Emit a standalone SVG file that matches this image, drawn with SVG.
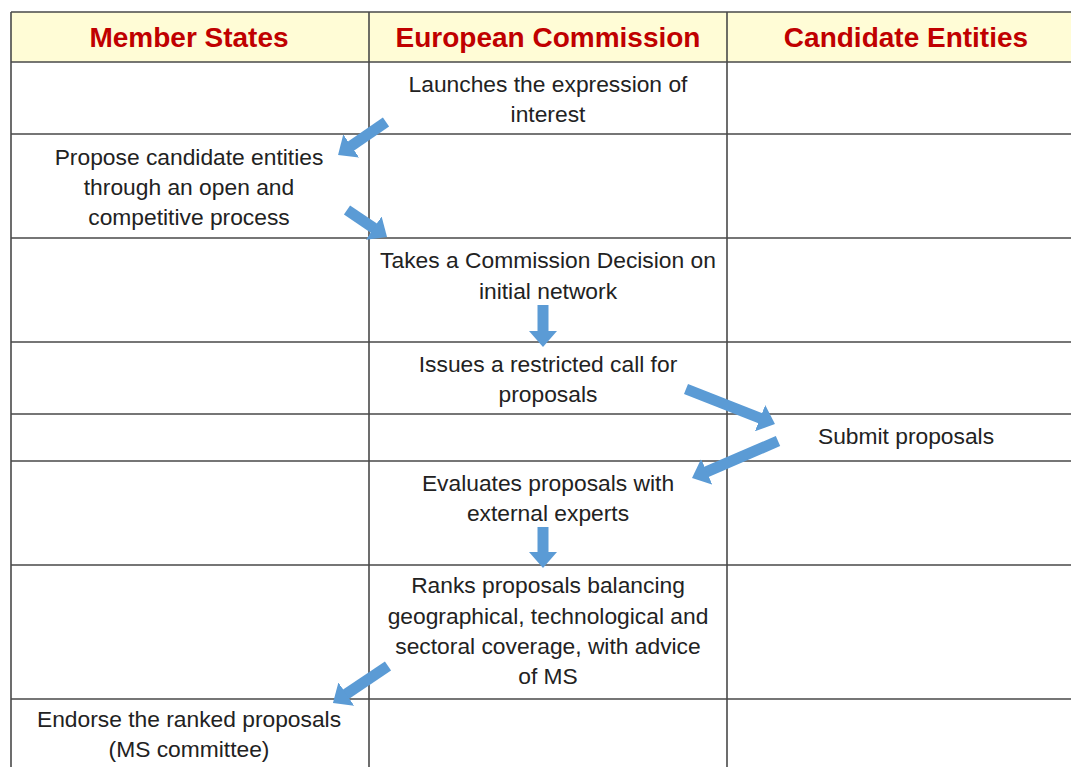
<svg xmlns="http://www.w3.org/2000/svg" width="1071" height="767" viewBox="0 0 1071 767">
<style>
.grid{stroke:#4a4a4a;stroke-width:1.6;fill:none}
.hd{font-family:"Liberation Sans",Arial,sans-serif;font-weight:bold;font-size:28px;fill:#C00000;text-anchor:middle}
.t{font-family:"Liberation Sans",Arial,sans-serif;font-size:22.8px;fill:#222;text-anchor:middle}
.arr{stroke:#5B9BD5;stroke-width:11;fill:none;marker-end:url(#ah)}
</style>
<defs>
<marker id="ah" viewBox="0 0 16 28" markerWidth="16" markerHeight="28" markerUnits="userSpaceOnUse" refX="1" refY="14" orient="auto">
<path d="M0,0 L16,14 L0,28 z" fill="#5B9BD5"/>
</marker>
</defs>
<rect width="1071" height="767" fill="#fff"/>
<g id="table">
<rect x="11" y="12" width="1070" height="50" fill="#FFFCD6"/>
<path class="grid" d="M11,12 H1071 M11,62 H1071 M11,134 H1071 M11,238 H1071 M11,342 H1071 M11,414 H1071 M11,461 H1071 M11,565 H1071 M11,699 H1071 M11,12 V767 M369,12 V767 M727,12 V767"/>
</g>
<g id="headers">
<text class="hd" x="189" y="47">Member States</text>
<text class="hd" x="548" y="47">European Commission</text>
<text class="hd" x="906" y="47">Candidate Entities</text>
</g>
<g id="n1"><text class="t" x="548" y="92">Launches the expression of</text><text class="t" x="548" y="122">interest</text></g>
<g id="n2"><text class="t" x="189" y="165">Propose candidate entities</text><text class="t" x="189" y="195">through an open and</text><text class="t" x="189" y="225">competitive process</text></g>
<g id="n3"><text class="t" x="548" y="268">Takes a Commission Decision on</text><text class="t" x="548" y="299">initial network</text></g>
<g id="n4"><text class="t" x="548" y="372">Issues a restricted call for</text><text class="t" x="548" y="402">proposals</text></g>
<g id="n5"><text class="t" x="906" y="444">Submit proposals</text></g>
<g id="n6"><text class="t" x="548" y="491">Evaluates proposals with</text><text class="t" x="548" y="521">external experts</text></g>
<g id="n7"><text class="t" x="548" y="593">Ranks proposals balancing</text><text class="t" x="548" y="624">geographical, technological and</text><text class="t" x="548" y="654">sectoral coverage, with advice</text><text class="t" x="548" y="684">of MS</text></g>
<g id="n8"><text class="t" x="189" y="727">Endorse the ranked proposals</text><text class="t" x="189" y="757">(MS committee)</text></g>
<g id="connectors">
<line class="arr" x1="386" y1="122" x2="350.4" y2="146.5"/>
<line class="arr" x1="347" y1="210" x2="374.6" y2="228.6"/>
<line class="arr" x1="543" y1="305" x2="543" y2="332"/>
<line class="arr" x1="686" y1="389" x2="761" y2="418.5"/>
<line class="arr" x1="778" y1="441" x2="705.8" y2="472.1"/>
<line class="arr" x1="543" y1="527" x2="543" y2="553"/>
<line class="arr" x1="388" y1="666" x2="345.4" y2="694.6"/>
</g>
</svg>
